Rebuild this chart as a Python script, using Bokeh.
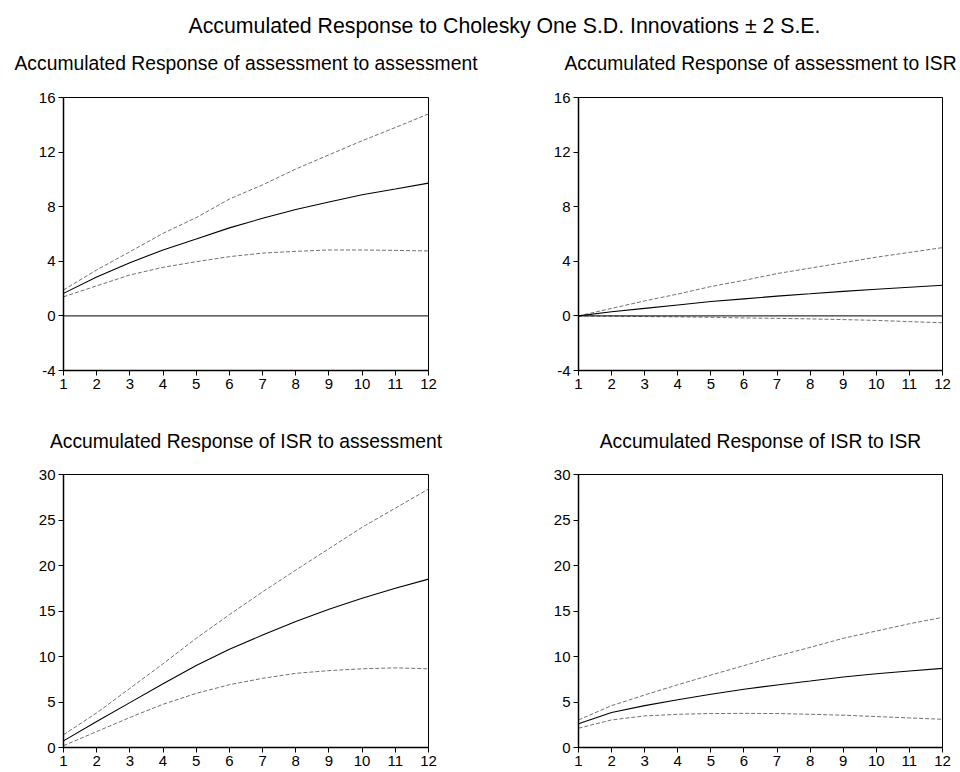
from bokeh.plotting import figure
from bokeh.layouts import column, row
from bokeh.models import Range1d, FixedTicker, Span
from bokeh.core.properties import value
from bokeh.embed import file_html
from bokeh.resources import INLINE

FONT = "Liberation Sans"

main_title = "Accumulated Response to Cholesky One S.D. Innovations \u00b1 2 S.E."

steps = [1, 2, 3, 4, 5, 6, 7, 8, 9, 10, 11, 12]

# assessment to assessment
aa_resp = [1.65, 2.85, 3.9, 4.83, 5.63, 6.45, 7.15, 7.8, 8.35, 8.88, 9.3, 9.73]
aa_upper = [1.9, 3.37, 4.7, 6.05, 7.2, 8.56, 9.6, 10.76, 11.8, 12.83, 13.8, 14.8]
aa_lower = [1.4, 2.2, 3.0, 3.56, 3.97, 4.34, 4.6, 4.73, 4.83, 4.83, 4.8, 4.76]

# assessment to ISR
ai_resp = [0.0, 0.3, 0.55, 0.8, 1.05, 1.25, 1.45, 1.62, 1.8, 1.95, 2.1, 2.25]
ai_upper = [0.0, 0.55, 1.1, 1.6, 2.15, 2.6, 3.1, 3.5, 3.9, 4.3, 4.65, 5.0]
ai_lower = [0.0, -0.02, -0.05, -0.07, -0.1, -0.15, -0.18, -0.22, -0.27, -0.33, -0.42, -0.5]

# ISR to assessment
ia_resp = [0.73, 2.85, 4.93, 7.0, 9.0, 10.8, 12.35, 13.85, 15.2, 16.4, 17.5, 18.5]
ia_upper = [1.4, 3.8, 6.5, 9.2, 12.0, 14.6, 17.1, 19.5, 21.85, 24.2, 26.3, 28.4]
ia_lower = [0.2, 1.75, 3.3, 4.75, 5.95, 6.9, 7.6, 8.15, 8.45, 8.65, 8.75, 8.65]

# ISR to ISR
ii_resp = [2.6, 3.84, 4.6, 5.25, 5.85, 6.4, 6.87, 7.3, 7.75, 8.1, 8.4, 8.7]
ii_upper = [3.03, 4.6, 5.77, 6.9, 7.96, 9.0, 10.05, 11.0, 12.0, 12.8, 13.6, 14.3]
ii_lower = [2.12, 3.03, 3.47, 3.65, 3.73, 3.75, 3.73, 3.65, 3.55, 3.4, 3.25, 3.1]

titles = [
    "Accumulated Response of assessment to assessment",
    "Accumulated Response of assessment to ISR",
    "Accumulated Response of ISR to assessment",
    "Accumulated Response of ISR to ISR",
]
yticks_top = [-4, 0, 4, 8, 12, 16]
yticks_bottom = [0, 5, 10, 15, 20, 25, 30]

LEFT_CENTER = 245.5
RIGHT_CENTER = 760


def strip(height):
    s = figure(width=960, height=height, output_backend="svg", toolbar_location=None,
               x_range=Range1d(0, 960), y_range=Range1d(0, height),
               x_axis_type=None, y_axis_type=None, min_border=0,
               outline_line_color=None, title=None)
    s.grid.visible = False
    return s


def panel(resp, upper, lower, yticks, width, left, right, top, bottom, height, zero_line):
    p = figure(width=width, height=height, output_backend="svg", toolbar_location=None,
               x_range=Range1d(1, 12), y_range=Range1d(yticks[0], yticks[-1]),
               min_border_left=left, min_border_right=right,
               min_border_top=top, min_border_bottom=bottom, title=None)
    p.outline_line_color = "black"
    p.outline_line_width = 1
    p.grid.visible = False

    for ax in (p.xaxis[0], p.yaxis[0]):
        ax.axis_line_color = "black"
        ax.axis_line_width = 1.5
        ax.major_tick_line_color = "black"
        ax.major_tick_in = 0
        ax.major_tick_out = 5
        ax.minor_tick_line_color = None
        ax.major_label_text_font = FONT
        ax.major_label_text_font_size = "15px"
        ax.major_label_text_color = "black"
    p.xaxis.ticker = FixedTicker(ticks=steps)
    p.yaxis.ticker = FixedTicker(ticks=yticks)
    p.yaxis.major_label_overrides = {t: str(t) for t in yticks}
    p.xaxis.major_label_standoff = 3
    p.yaxis.major_label_standoff = 3

    if zero_line:
        p.add_layout(Span(location=0, dimension="width", line_color="black", line_width=1))

    p.line(steps, upper, line_color="#707070", line_width=1, line_dash="4 2")
    p.line(steps, lower, line_color="#707070", line_width=1, line_dash="4 2")
    p.line(steps, resp, line_color="black", line_width=1.1)
    return p


# header strip: main title + first row subtitles (page y 0..80)
head = strip(80)
head.text(x=[504], y=[80 - 25.5], text=[main_title], text_align="center",
          text_baseline="middle", text_font=value(FONT),
          text_font_size="21.3px", text_color="black")
head.text(x=[LEFT_CENTER, RIGHT_CENTER], y=[80 - 63, 80 - 63], text=titles[:2],
          text_align="center", text_baseline="middle", text_font=value(FONT),
          text_font_size="19.3px", text_color="black")

p1 = panel(aa_resp, aa_upper, aa_lower, yticks_top, 480, 63, 52, 17, 35, 325, True)
p2 = panel(ai_resp, ai_upper, ai_lower, yticks_top, 480, 98, 18, 17, 35, 325, True)

# middle strip: second row subtitles (page y 405..465)
mid = strip(60)
mid.text(x=[LEFT_CENTER, RIGHT_CENTER], y=[465 - 441, 465 - 441], text=titles[2:],
         text_align="center", text_baseline="middle", text_font=value(FONT),
         text_font_size="19.3px", text_color="black")

p3 = panel(ia_resp, ia_upper, ia_lower, yticks_bottom, 480, 63, 52, 9, 25, 307, False)
p4 = panel(ii_resp, ii_upper, ii_lower, yticks_bottom, 480, 98, 18, 9, 25, 307, False)

layout = column(head, row(p1, p2), mid, row(p3, p4))

open("out.html", "w").write(file_html(layout, INLINE))
